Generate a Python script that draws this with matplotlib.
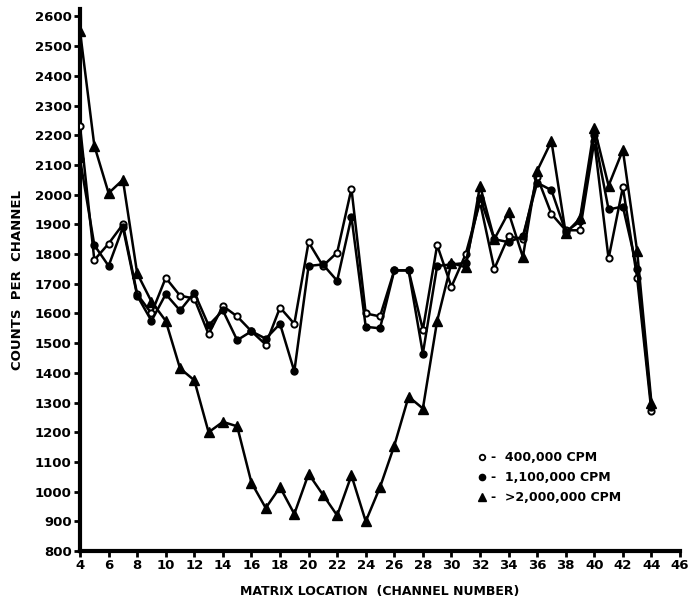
import matplotlib
matplotlib.use("Agg")
import matplotlib.pyplot as plt
from matplotlib.lines import Line2D

# Channel numbers along the matrix
channels = list(range(4, 45))

# Counts per channel for each count rate
cpm_400k = [2230, 1780, 1835, 1900, 1665, 1600, 1720, 1660, 1650, 1530,
            1625, 1590, 1540, 1495, 1620, 1565, 1840, 1760, 1805, 2020,
            1600, 1590, 1745, 1745, 1545, 1830, 1690, 1800, 1975, 1750,
            1860, 1850, 2060, 1935, 1880, 1880, 2180, 1785, 2025, 1720,
            1270]
cpm_1100k = [2120, 1830, 1760, 1890, 1660, 1575, 1665, 1610, 1670, 1560,
             1610, 1510, 1540, 1515, 1565, 1405, 1760, 1765, 1710, 1925,
             1555, 1550, 1745, 1745, 1465, 1760, 1765, 1770, 1990, 1850,
             1840, 1860, 2040, 2015, 1875, 1910, 2200, 1950, 1960, 1750,
             1285]
cpm_2000k = [2550, 2165, 2005, 2050, 1735, 1640, 1575, 1415, 1375, 1200,
             1235, 1220, 1030, 945, 1015, 925, 1060, 990, 920, 1055,
             900, 1015, 1155, 1320, 1280, 1575, 1770, 1755, 2030, 1850,
             1940, 1790, 2080, 2180, 1870, 1920, 2225, 2030, 2150, 1810,
             1300]

series_labels = ["400,000 CPM", "1,100,000 CPM", ">2,000,000 CPM"]
x_ticks = list(range(4, 47, 2))
y_ticks = list(range(800, 2601, 100))

font = {"family": "DejaVu Sans", "weight": "bold"}

fig = plt.figure(figsize=(6.96, 5.99), dpi=100)
ax = fig.add_axes([0.115, 0.08, 0.862, 0.905])

lw = 1.8
ax.plot(channels, cpm_400k, color="black", lw=lw, marker="o", ms=4.5,
        mfc="white", mec="black", mew=1.4, zorder=3)
ax.plot(channels, cpm_1100k, color="black", lw=lw, marker="o", ms=5,
        mfc="black", mec="black", zorder=3)
ax.plot(channels, cpm_2000k, color="black", lw=lw, marker="^", ms=7,
        mfc="black", mec="black", zorder=3)

ax.set_xlim(4, 46)
ax.set_ylim(800, 2625)
ax.set_xticks(x_ticks)
ax.set_yticks(y_ticks)
ax.set_xticklabels([str(t) for t in x_ticks], fontdict=font, fontsize=9.5)
ax.set_yticklabels([str(t) for t in y_ticks], fontdict=font, fontsize=9.5)
ax.tick_params(axis="both", direction="out", length=4, width=2,
               color="black", pad=2)

for side in ("top", "right"):
    ax.spines[side].set_visible(False)
for side in ("left", "bottom"):
    ax.spines[side].set_linewidth(3)
    ax.spines[side].set_color("black")

ax.set_xlabel("MATRIX LOCATION  (CHANNEL NUMBER)", fontdict=font,
              fontsize=9, labelpad=9)
ax.set_ylabel("COUNTS  PER  CHANNEL", fontdict=font, fontsize=9.5, labelpad=8)

handles = [
    Line2D([], [], ls="none", marker="o", ms=4, mfc="white", mec="black", mew=1.3),
    Line2D([], [], ls="none", marker="o", ms=4.5, mfc="black", mec="black"),
    Line2D([], [], ls="none", marker="^", ms=6, mfc="black", mec="black"),
]
leg = ax.legend(handles, ["-  " + s for s in series_labels],
                loc="upper left", bbox_to_anchor=(0.645, 0.205),
                frameon=False, handlelength=0.6, handletextpad=0.4,
                labelspacing=0.55, prop={"family": "DejaVu Sans",
                                         "weight": "bold", "size": 9})

fig.savefig("out.png", dpi=100, facecolor="white")
